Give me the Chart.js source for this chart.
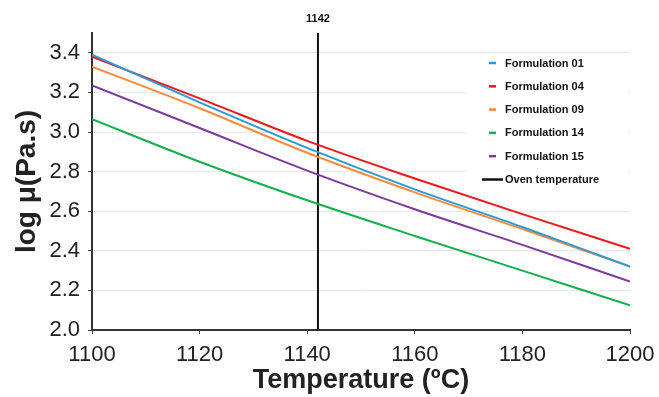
<!DOCTYPE html>
<html>
<head>
<meta charset="utf-8">
<script src="https://cdn.jsdelivr.net/npm/chart.js@4/dist/chart.umd.min.js"></script>
<style>
  html, body { margin: 0; padding: 0; background: #fff; }
  #wrap { width: 659px; height: 397px; position: relative; }
</style>
</head>
<body>
<div id="wrap"><canvas id="chart_1"></canvas></div>
<script>
var temps = [1100, 1120, 1140, 1160, 1180, 1200];

// log viscosity per formulation
var f01 = [3.39, 3.15, 2.92, 2.71, 2.52, 2.32];
var f04 = [3.38, 3.17, 2.955, 2.765, 2.585, 2.41];
var f09 = [3.33, 3.12, 2.895, 2.695, 2.51, 2.32];
var f14 = [3.065, 2.85, 2.655, 2.475, 2.30, 2.125];
var f15 = [3.235, 3.02, 2.805, 2.61, 2.43, 2.245];

var seriesNames = ['Formulation 01', 'Formulation 04', 'Formulation 09', 'Formulation 14', 'Formulation 15'];
var seriesColors = ['#2b9ad8', '#f2161c', '#ff8a3a', '#12b04c', '#7b3a9e'];

// axis ticks
var yTicks = [2.0, 2.2, 2.4, 2.6, 2.8, 3.0, 3.2, 3.4];
var xTicks = [1100, 1120, 1140, 1160, 1180, 1200];

// oven temperature marker
var ovenTemp = 1142;
var ovenRange = [2.0, 3.5];

var FONT = "'Liberation Sans', Arial, sans-serif";

function toPoints(xs, ys){
  var pts = [];
  for(var i = 0; i < xs.length; i++){
    pts.push({x: xs[i], y: ys[i]});
  }
  return pts;
}

var datasets = [];
var allSeries = [f01, f04, f09, f14, f15];
for(var i = 0; i < allSeries.length; i++){
  datasets.push({
    label: seriesNames[i],
    data: toPoints(temps, allSeries[i]),
    borderColor: seriesColors[i],
    backgroundColor: seriesColors[i],
    borderWidth: 2,
    pointRadius: 0,
    fill: false,
    cubicInterpolationMode: 'monotone'
  });
}
datasets.push({
  label: 'Oven temperature',
  data: [{x: ovenTemp, y: ovenRange[0]}, {x: ovenTemp, y: ovenRange[1]}],
  borderColor: '#111',
  backgroundColor: '#111',
  borderWidth: 2,
  pointRadius: 0,
  fill: false,
  isOven: true
});

// legend drawn inside the plot, plus the 1142 label on top
var extrasPlugin = {
  id: 'extras',
  afterDatasetsDraw: function(chart){
    var ctx = chart.ctx;
    var xs = chart.scales.x;

    // legend box
    ctx.save();
    ctx.fillStyle = '#fff';
    ctx.fillRect(467, 54, 161, 134);
    ctx.font = 'bold 11px ' + FONT;
    ctx.textBaseline = 'middle';
    ctx.textAlign = 'left';
    var ds = chart.data.datasets;
    for(var i = 0; i < ds.length; i++){
      var y = 63 + i * 23.3;
      ctx.strokeStyle = ds[i].borderColor;
      ctx.lineWidth = 2.5;
      ctx.beginPath();
      if(ds[i].isOven){
        ctx.moveTo(482, y); ctx.lineTo(503, y);
      } else {
        ctx.moveTo(489, y); ctx.lineTo(496, y);
      }
      ctx.stroke();
      ctx.fillStyle = '#111';
      ctx.fillText(ds[i].label, 505, y + 0.5);
    }

    // oven label
    var px = xs.getPixelForValue(ovenTemp);
    ctx.textAlign = 'center';
    ctx.fillStyle = '#111';
    ctx.fillText(String(ovenTemp), px, 19);
    ctx.restore();
  }
};

var ctx_1 = document.getElementById('chart_1').getContext('2d');
var chart_1 = new Chart(ctx_1, {
  type: 'line',
  data: { datasets: datasets },
  plugins: [extrasPlugin],
  options: {
    responsive: true,
    maintainAspectRatio: false,
    animation: false,
    layout: { padding: { left: 0, right: 29, top: 33, bottom: 0 } },
    plugins: {
      legend: { display: false },
      tooltip: { enabled: false }
    },
    scales: {
      x: {
        type: 'linear',
        min: 1100,
        max: 1200,
        afterBuildTicks: function(s){
          s.ticks = xTicks.map(function(v){ return {value: v}; });
        },
        ticks: {
          color: '#222',
          font: { family: FONT, size: 22 },
          padding: 8,
          maxRotation: 0,
          callback: function(v){ return String(v); }
        },
        grid: { drawOnChartArea: false, drawTicks: true, tickLength: 4, tickColor: '#444' },
        border: { color: '#333', width: 2 },
        title: {
          display: true,
          text: 'Temperature (ºC)',
          color: '#222',
          font: { family: FONT, size: 27, weight: 'bold' },
          padding: { top: 0, bottom: 0 }
        },
        afterFit: function(s){
          s.height = 67;
          s.paddingRight = 0;
          s.paddingLeft = 0;
        }
      },
      y: {
        min: 2.0,
        max: 3.5,
        afterBuildTicks: function(s){
          s.ticks = yTicks.map(function(v){ return {value: v}; });
        },
        ticks: {
          color: '#222',
          font: { family: FONT, size: 22 },
          padding: 8,
          callback: function(v){ return v.toFixed(1); }
        },
        grid: { color: '#e8e8e8', lineWidth: 1, drawTicks: true, tickLength: 4, tickColor: '#444' },
        border: { color: '#333', width: 2 },
        title: {
          display: true,
          text: 'log μ(Pa.s)',
          color: '#222',
          font: { family: FONT, size: 28, weight: 'bold' },
          padding: { top: 10, bottom: 4 }
        },
        afterFit: function(s){ s.width = 92; }
      }
    }
  }
});
</script>
</body>
</html>
